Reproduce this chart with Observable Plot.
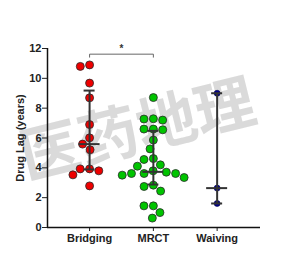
<!DOCTYPE html>
<html><head><meta charset="utf-8">
<script src="https://cdn.jsdelivr.net/npm/d3@7"></script>
<script src="https://cdn.jsdelivr.net/npm/@observablehq/plot@0.6"></script>
<style>body{margin:0;background:#fff}</style>
</head><body><div id="chart"></div>
<script>
const categories = ["Bridging", "MRCT", "Waiving"];
const bridging = [10.9, 10.8, 9.68, 8.69, 6.9, 6.01, 5.59, 5.21, 3.93, 3.80, 3.93, 3.53, 2.79];
const mrct = [8.71, 7.27, 7.2, 7.29, 6.6, 6.55, 6.6, 5.86, 5.27, 4.56, 4.62, 4.11, 4.2,
              3.71, 3.62, 3.51, 3.35, 3.62, 3.62, 3.8, 2.84, 2.75, 2.44, 1.45, 1.45, 1.0, 0.63];
const waiving = [9.0, 2.64, 1.61];
const medians = [5.59, 3.73, 2.64];
const lowers = [3.89, 2.88, 1.61];
const uppers = [9.18, 6.48, 9.0];
const yTicks = [0, 2, 4, 6, 8, 10, 12];
const yLabel = "Drug Lag (years)";
const sigPair = [0, 1];
const sigLevel = 11.62;
const sigText = "*";
const watermark = "医药地理";

const colors = ["#ee0000", "#00c400", "#00008f"];
const W = 284, H = 257, mL = 47, mR = 24, mT = 48, mB = 30;
const xDomain = [-0.66, 2.68], yDomain = [0, 12];
const pxX = (W - mL - mR) / (xDomain[1] - xDomain[0]);
const pxY = (H - mT - mB) / (yDomain[1] - yDomain[0]);

function swarm(vals, D) {
  const order = d3.range(vals.length).sort((a, b) => vals[b] - vals[a]);
  const placed = [], off = new Array(vals.length).fill(0);
  for (const k of order) {
    const y = vals[k] * pxY;
    const near = placed.filter(p => Math.abs(p.y - y) < D);
    const cands = [0];
    for (const p of near) {
      const w = Math.sqrt(D * D - (p.y - y) ** 2);
      cands.push(p.x + w + 0.01, p.x - w - 0.01);
    }
    cands.sort((a, b) => Math.abs(a) - Math.abs(b) || a - b);
    for (const c of cands) {
      if (near.every(p => (p.x - c) ** 2 + (p.y - y) ** 2 >= D * D - 0.1)) {
        off[k] = c; placed.push({x: c, y}); break;
      }
    }
  }
  return off;
}

const groups = [bridging, mrct, waiving];
const points = [];
groups.forEach((vals, i) => {
  const off = swarm(vals, i === 2 ? 6 : 9.4);
  vals.forEach((v, j) => points.push({g: i, y: v, x: i + off[j] / pxX}));
});
const summary = categories.map((c, i) => ({i, med: medians[i], lo: lowers[i], hi: uppers[i]}));
const halfMed = 10.5 / pxX, halfCap = 5.5 / pxX;
const drop = 3 / pxY;
const bracket = [
  {x: sigPair[0], y: sigLevel - drop}, {x: sigPair[0], y: sigLevel},
  {x: sigPair[1], y: sigLevel}, {x: sigPair[1], y: sigLevel - drop}
];

const chart = Plot.plot({
  width: W, height: H,
  marginLeft: mL, marginRight: mR, marginTop: mT, marginBottom: mB,
  style: {fontFamily: "Liberation Sans, Arial, sans-serif", fontSize: "11px", fontWeight: "bold", background: "#fff", color: "#222"},
  x: {domain: xDomain, axis: null},
  y: {domain: yDomain, axis: null},
  marks: [
    Plot.text([watermark], {text: d => d, frameAnchor: "middle", dx: -16, dy: -7, rotate: -14,
      fontSize: 60, fontWeight: "bold", fill: "#d3d3d3", fillOpacity: 0.85, fontFamily: "Noto Sans CJK SC"}),
    Plot.dot(points.filter(d => d.g < 2), {x: "x", y: "y", r: 4, fill: d => colors[d.g], stroke: "#2a2a2a", strokeWidth: 0.8}),
    Plot.dot(points.filter(d => d.g === 2), {x: "x", y: "y", r: 3, fill: d => colors[d.g], stroke: "#000044", strokeWidth: 0.6}),
    Plot.ruleX(summary, {x: "i", y1: "lo", y2: "hi", stroke: "#333", strokeWidth: 2}),
    Plot.ruleY(summary, {y: "med", x1: d => d.i - halfMed, x2: d => d.i + halfMed, stroke: "#333", strokeWidth: 2}),
    Plot.ruleY(summary, {y: "lo", x1: d => d.i - halfCap, x2: d => d.i + halfCap, stroke: "#333", strokeWidth: 2}),
    Plot.ruleY(summary, {y: "hi", x1: d => d.i - halfCap, x2: d => d.i + halfCap, stroke: "#333", strokeWidth: 2}),
    Plot.line(bracket, {x: "x", y: "y", stroke: "#666", strokeWidth: 1}),
    Plot.text([sigText], {x: (sigPair[0] + sigPair[1]) / 2, y: sigLevel, text: d => d, dy: -5, fontSize: 10, fill: "#333"}),
    Plot.axisY({ticks: yTicks, tickSize: 5, tickPadding: 1, label: null, fontSize: 11, fontWeight: "bold"}),
    Plot.axisX({ticks: [0, 1, 2], tickFormat: i => categories[i], tickSize: 4, tickPadding: 3, label: null, fontSize: 11, fontWeight: "bold"}),
    Plot.ruleX([xDomain[0]], {stroke: "#111", strokeWidth: 1.5}),
    Plot.ruleY([0], {stroke: "#111", strokeWidth: 1.5}),
    Plot.text([yLabel], {text: d => d, frameAnchor: "left", textAnchor: "middle", dx: -27, rotate: -90, fontSize: 11, fontWeight: "bold", fill: "#222"})
  ]
});
document.getElementById("chart").appendChild(chart);
</script>
</body></html>
